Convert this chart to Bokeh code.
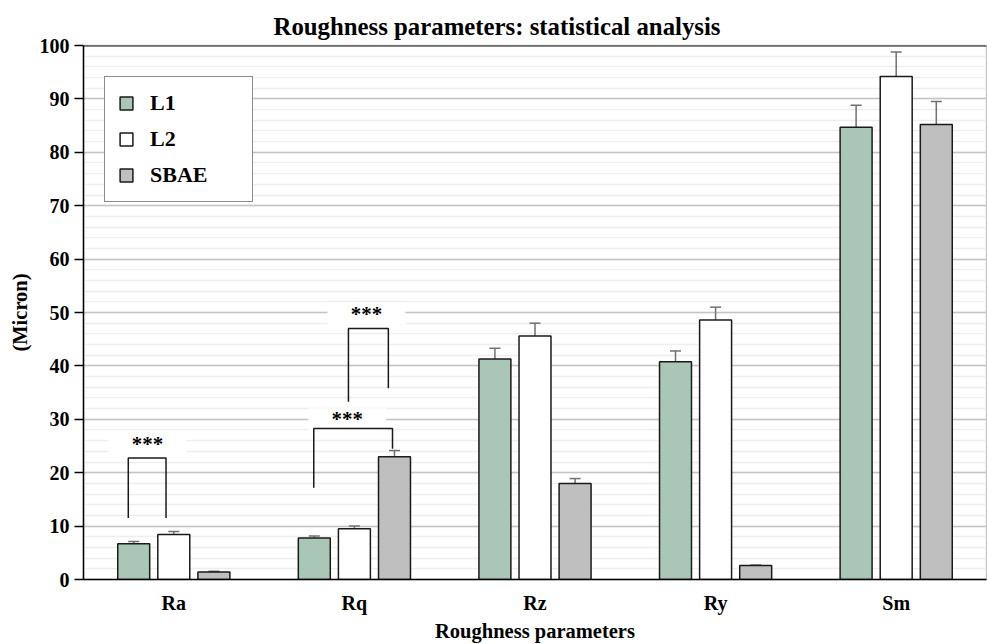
from bokeh.plotting import figure
from bokeh.models import (ColumnDataSource, FactorRange, SingleIntervalTicker,
                          Whisker, TeeHead, Span)
from bokeh.transform import dodge
from bokeh.core.properties import value
from bokeh.embed import file_html
from bokeh.resources import INLINE

# ---------------- data ----------------
categories = ["Ra", "Rq", "Rz", "Ry", "Sm"]
series = ["L1", "L2", "SBAE"]
l1 = [6.7, 7.75, 41.3, 40.8, 84.7]
l1_err = [0.4, 0.4, 2.0, 2.0, 4.1]
l2 = [8.45, 9.5, 45.6, 48.6, 94.2]
l2_err = [0.55, 0.5, 2.4, 2.4, 4.6]
sbae = [1.4, 23.0, 18.0, 2.6, 85.2]
sbae_err = [0.15, 1.15, 0.9, 0.1, 4.3]

# significance brackets: (category, left offset, right offset, top, left-leg bottom, right-leg bottom)
brackets = [
    ("Ra", -0.252, -0.043, 22.75, 11.5, 11.5),
    ("Rq", -0.225, 0.211, 28.3, 17.2, 24.5),
    ("Rq", -0.033, 0.188, 47.0, 33.3, 35.8),
]
star_text = ["***", "***", "***"]
star_cat = ["Ra", "Rq", "Rq"]
star_off = [-0.145, -0.039, 0.067]
star_y = [25.3, 30.0, 49.8]

FONT = "Liberation Serif"
colors = ["#a9c6b6", "#ffffff", "#bfbfbf"]
offsets = [-0.222, 0.0, 0.222]
values_list = [l1, l2, sbae]
errs_list = [l1_err, l2_err, sbae_err]

p = figure(x_range=FactorRange(*categories), y_range=(0, 100),
           width=987, height=644, output_backend="svg", toolbar_location=None,
           title="Roughness parameters: statistical analysis",
           min_border_left=83, min_border_right=1, min_border_top=45,
           min_border_bottom=65)

p.title.text_font = FONT
p.title.text_font_size = "24.8px"
p.title.text_font_style = "bold"
p.title.align = "left"
p.title.offset = 190
p.title.standoff = 12
p.title.text_color = "black"

# grid
p.yaxis.ticker = SingleIntervalTicker(interval=10, num_minor_ticks=5)
p.ygrid.grid_line_color = "#c4c4c4"
p.ygrid.grid_line_width = 1.5
p.ygrid.minor_grid_line_color = "#eeeeee"
p.ygrid.minor_grid_line_width = 1.5
p.xgrid.grid_line_color = None
p.outline_line_color = "#c4c4c4"
p.outline_line_width = 1.5

# axes
for ax in (p.xaxis[0], p.yaxis[0]):
    ax.axis_line_color = "black"
    ax.axis_line_width = 1.5
    ax.major_label_text_font = FONT
    ax.major_label_text_font_style = "bold"
    ax.major_label_text_font_size = "20px"
    ax.major_label_text_color = "black"
    ax.axis_label_text_font = FONT
    ax.axis_label_text_font_style = "bold"
    ax.axis_label_text_font_size = "20.5px"
    ax.axis_label_text_color = "black"
    ax.minor_tick_line_color = None
    ax.minor_tick_out = 0

p.xaxis.major_tick_line_color = None
p.xaxis.major_tick_out = 0
p.xaxis.major_tick_in = 0
p.xaxis.major_label_standoff = 12
p.xaxis.axis_label = "Roughness parameters"
p.xaxis.axis_label_standoff = 3
p.yaxis.major_tick_line_color = "black"
p.yaxis.major_tick_line_width = 1.5
p.yaxis.major_tick_in = 0
p.yaxis.major_tick_out = 9
p.yaxis.major_label_standoff = 5
p.yaxis.axis_label = "(Micron)"
p.yaxis.axis_label_standoff = 6

# bars + error bars
src = ColumnDataSource(dict(cat=categories))
for name, vals, errs in zip(series, values_list, errs_list):
    src.data[name] = vals
    src.data[name + "_lo"] = [v - e for v, e in zip(vals, errs)]
    src.data[name + "_hi"] = [v + e for v, e in zip(vals, errs)]

for name, col, off in zip(series, colors, offsets):
    p.vbar(x=dodge("cat", off, range=p.x_range), top=name, width=0.177,
           source=src, fill_color=col, line_color="#1a1a1a", line_width=1.5,
           legend_label=name)

for name, off in zip(series, offsets):
    w = Whisker(base=dodge("cat", off, range=p.x_range), lower=name + "_lo",
                upper=name + "_hi", source=src, line_color="#707070", line_width=1.5,
                upper_head=TeeHead(size=11, line_color="#707070", line_width=1.5),
                lower_head=TeeHead(size=11, line_color="#707070", line_width=1.5))
    p.add_layout(w)

# significance annotations
idx = {c: i + 0.5 for i, c in enumerate(categories)}
sx = [idx[c] + o for c, o in zip(star_cat, star_off)]
p.rect(x=sx, y=star_y, width=78, height=22, width_units="screen",
       height_units="screen", fill_color="white", line_color=None)
xs, ys = [], []
for c, lo, ro, top, lb, rb in brackets:
    xs.append([idx[c] + lo, idx[c] + lo, idx[c] + ro, idx[c] + ro])
    ys.append([lb, top, top, rb])
p.multi_line(xs=xs, ys=ys, line_color="#1a1a1a", line_width=1.5)
p.text(x=sx, y=star_y, text=star_text, text_font=value(FONT),
       text_font_style="bold", text_font_size="21px", text_align="center",
       text_baseline="middle", text_color="black")

p.add_layout(Span(location=100, dimension="width", line_color="#1a1a1a", line_width=2))

# legend
lg = p.legend[0]
lg.location = (21, 377)
lg.label_text_font = FONT
lg.label_text_font_style = "bold"
lg.label_text_font_size = "22px"
lg.label_text_color = "black"
lg.glyph_width = 16
lg.glyph_height = 16
lg.label_height = 24
lg.label_width = 89
lg.label_standoff = 16
lg.spacing = 10
lg.padding = 13
lg.margin = 0
lg.border_line_color = "#1a1a1a"
lg.border_line_width = 1.5
lg.background_fill_alpha = 1

open("out.html", "w").write(file_html(p, INLINE))
